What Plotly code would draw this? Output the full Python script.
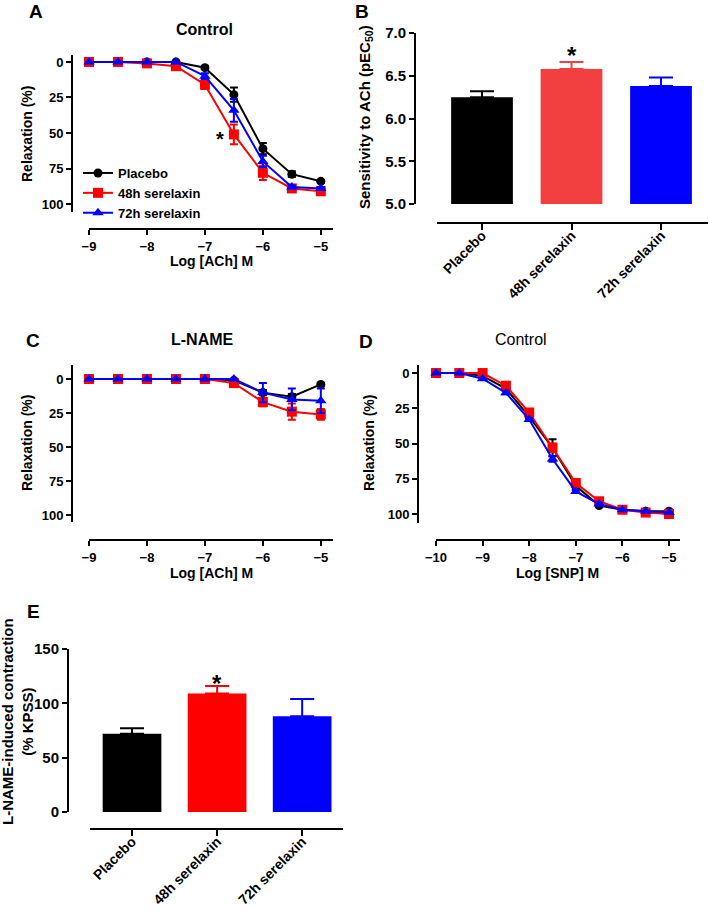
import plotly.graph_objects as go

W, H = 709, 911

# concentration axes (log M)
ach_logm = [-9, -8.5, -8, -7.5, -7, -6.5, -6, -5.5, -5]
snp_logm = [-10, -9.5, -9, -8.5, -8, -7.5, -7, -6.5, -6, -5.5, -5]

# A: ACh, control
a_placebo = [0, 0, 0, 0, 4, 23, 61, 79, 84]
a_placebo_err = [0, 0, 0, 0, 1, 5, 4, 2, 1]
a_48h = [0, 0, 1, 3, 16, 51, 78, 89, 91]
a_48h_err = [0, 0, 0, 1, 3, 7, 5, 2, 2]
a_72h = [0, 0, 0, 0, 10, 34, 70, 88, 89]
a_72h_err = [0, 0, 0, 0, 2, 8, 4, 1, 1]

# C: ACh, L-NAME
c_placebo = [0, 0, 0, 0, 0, 1, 10, 13, 4]
c_placebo_err = [0, 0, 0, 0, 0, 0, 2, 2, 1]
c_48h = [0, 0, 0, 0, 0, 3, 17, 24, 26]
c_48h_err = [0, 0, 0, 0, 0, 1, 3, 6, 4]
c_72h = [0, 0, 0, 0, 0, 0, 10, 15, 16]
c_72h_err = [0, 0, 0, 0, 0, 0, 7, 8, 9]

# D: SNP, control
d_placebo = [0, 0, 2, 11, 31, 53, 80, 94, 97, 98, 98]
d_placebo_err = [0, 0, 0, 1, 3, 6, 2, 1, 0, 0, 0]
d_48h = [0, 0, 0, 9, 28, 53, 78, 91, 97, 99, 100]
d_48h_err = [0, 0, 0, 1, 2, 3, 2, 1, 1, 0, 0]
d_72h = [0, 0, 4, 14, 33, 61, 84, 93, 97, 98, 99]
d_72h_err = [0, 0, 0, 1, 1, 2, 1, 1, 0, 0, 0]

groups = ['Placebo', '48h serelaxin', '72h serelaxin']

# B: pEC50
pec50 = [6.25, 6.58, 6.38]
pec50_err = [0.07, 0.08, 0.10]

# E: L-NAME contraction (% KPSS)
lname_contraction = [72, 109, 88]
lname_contraction_err = [5, 7, 16]

FONT = 'Liberation Sans, Arial, sans-serif'
line_colors = ['#000000', '#ff0000', '#0000ff']
bar_colors_b = ['#000000', '#f23f3f', '#0000ff']
bar_colors_e = ['#000000', '#ff0000', '#0000ff']
symbols = ['circle', 'square', 'triangle-up']


def px(x):
    return x / W


def py(y):
    return 1 - y / H


fig = go.Figure()


def add_curves(xref, yref, xs, series, errs, legend=False):
    for i in range(3):
        fig.add_trace(go.Scatter(
            x=xs, y=series[i], name=groups[i],
            mode='lines+markers',
            line=dict(color=line_colors[i], width=2),
            marker=dict(symbol=symbols[i], size=9 if i == 0 else 10, color=line_colors[i]),
            error_y=dict(type='data', array=errs[i], color=line_colors[i], thickness=2, width=4),
            cliponaxis=False,
            showlegend=legend,
            xaxis=xref, yaxis=yref,
        ))


def add_bars(xref, yref, vals, errs, colors):
    for i in range(3):
        fig.add_trace(go.Bar(
            x=[groups[i]], y=[vals[i]],
            marker=dict(color=colors[i], line=dict(width=0)),
            width=0.69,
            error_y=dict(type='data', array=[errs[i]], arrayminus=[0], symmetric=False,
                         color=colors[i], thickness=2, width=12),
            showlegend=False,
            xaxis=xref, yaxis=yref,
        ))


add_curves('x', 'y', ach_logm, [a_placebo, a_48h, a_72h],
           [a_placebo_err, a_48h_err, a_72h_err], legend=True)
add_bars('x2', 'y2', pec50, pec50_err, bar_colors_b)
add_curves('x3', 'y3', ach_logm, [c_placebo, c_48h, c_72h],
           [c_placebo_err, c_48h_err, c_72h_err])
add_curves('x4', 'y4', snp_logm, [d_placebo, d_48h, d_72h],
           [d_placebo_err, d_48h_err, d_72h_err])
add_bars('x5', 'y5', lname_contraction, lname_contraction_err, bar_colors_e)


def axis(dom, pos, rng, size=13, **kw):
    d = dict(domain=dom, anchor='free', position=pos, range=rng,
             showline=True, linewidth=2, linecolor='black',
             ticks='outside', ticklen=5, tickwidth=2, tickcolor='black',
             showgrid=False, zeroline=False, automargin=False,
             tickfont=dict(family=FONT, size=size, color='black', weight='bold'))
    d.update(kw)
    return d


layout_axes = dict(
    # A
    xaxis=axis([px(89), px(333)], py(229), [-9, -4.79], tickvals=[-9, -8, -7, -6, -5]),
    yaxis=axis([py(212), py(55)], px(72), [105.6, -4.9], tickvals=[0, 25, 50, 75, 100]),
    # B
    xaxis2=axis([px(437), px(708)], py(223), [-0.503, 2.525], size=14, tickangle=-45,
                type='category', ticklen=6, ticklabelstandoff=-8),
    yaxis2=axis([py(204), py(33)], px(415), [5, 7], size=15,
                tickvals=[5, 5.5, 6, 6.5, 7], tickformat='.1f'),
    # C
    xaxis3=axis([px(89), px(333)], py(540), [-9, -4.79], tickvals=[-9, -8, -7, -6, -5]),
    yaxis3=axis([py(522), py(365)], px(72), [105.1, -10.3], tickvals=[0, 25, 50, 75, 100]),
    # D
    xaxis4=axis([px(436), px(680)], py(540), [-10, -4.764],
                tickvals=[-10, -9, -8, -7, -6, -5]),
    yaxis4=axis([py(523), py(365)], px(418), [106.4, -5.7], tickvals=[0, 25, 50, 75, 100]),
    # E
    xaxis5=axis([px(90), px(343)], py(829), [-0.494, 2.48], size=14, tickangle=-45,
                type='category', ticklen=6, ticklabelstandoff=-8),
    yaxis5=axis([py(812), py(649)], px(68), [0, 150], size=15, tickvals=[0, 50, 100, 150]),
)


def note(text, x, y, size=14, bold=True, angle=0):
    return dict(text=text, x=px(x), y=py(y), xref='paper', yref='paper',
                showarrow=False, textangle=angle, xanchor='center', yanchor='middle',
                font=dict(family=FONT, size=size, color='black',
                          weight='bold' if bold else 'normal'))


annotations = [
    note('A', 36, 12, 19), note('B', 362, 11, 19), note('C', 33, 340, 19),
    note('D', 366, 341, 19), note('E', 33, 611, 19),
    note('Control', 204, 29, 16),
    note('L-NAME', 202, 339, 16),
    note('Control', 521, 339, 16, bold=False),
    note('Relaxation (%)', 27, 134, 14, angle=-90),
    note('Log [ACh] M', 212, 261, 14),
    note('Relaxation (%)', 27, 443, 14, angle=-90),
    note('Log [ACh] M', 212, 573, 14),
    note('Relaxation (%)', 369, 443, 14, angle=-90),
    note('Log [SNP] M', 557, 573, 14),
    note('Sensitivity to ACh (pEC<sub>50</sub>)', 365, 117, 15, angle=-90),
    note('L-NAME-induced contraction<br>(% KPSS)', 17, 722, 15, angle=-90),
    note('*', 220, 139, 20), note('*', 572, 55, 24), note('*', 217, 683, 24),
]

fig.update_layout(
    width=W, height=H,
    margin=dict(l=0, r=0, t=0, b=0, autoexpand=False),
    paper_bgcolor='white', plot_bgcolor='rgba(0,0,0,0)',
    font=dict(family=FONT, size=13, color='black', weight='bold'),
    barmode='overlay',
    showlegend=True,
    legend=dict(x=px(78), y=py(158), xanchor='left', yanchor='top',
                bgcolor='rgba(0,0,0,0)', font=dict(size=13, weight='bold'),
                tracegroupgap=0),
    annotations=annotations,
    **layout_axes,
)

# the page's default body margin would push the figure 8px off the window
fig.write_html('out.html', config={'displayModeBar': False},
               post_script="document.body.style.margin = '0';")
